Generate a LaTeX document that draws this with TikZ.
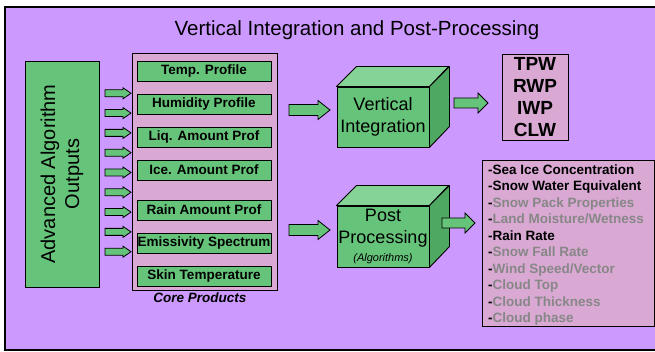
\documentclass[tikz,border=0pt]{standalone}
\usepackage{fontspec}
\setmainfont{Liberation Sans}
\definecolor{bgpurple}{HTML}{CC99FF}
\definecolor{pinkfill}{HTML}{D9A9D3}
\definecolor{gfront}{HTML}{66C47A}
\definecolor{gtop}{HTML}{85D397}
\definecolor{gside}{HTML}{4FA862}
\definecolor{graytext}{HTML}{878787}
\newcommand{\barrow}[6]{%
  \filldraw[arrowshape] (#1,#2-#4) -- (#1+#3-#6,#2-#4) -- (#1+#3-#6,#2-#5) -- (#1+#3,#2) -- (#1+#3-#6,#2+#5) -- (#1+#3-#6,#2+#4) -- (#1,#2+#4) -- cycle;}
\begin{document}
\begin{tikzpicture}[x=1pt,y=-1pt,
  arrowshape/.style={fill=gfront,draw=black,line width=0.8pt,line join=miter},
  greenbox/.style={draw=black,fill=gfront,line width=0.9pt,inner sep=0pt},
  itembox/.style={greenbox,minimum width=134pt,minimum height=20pt,font=\bfseries\fontsize{13.5}{16}\selectfont},
  pinkbox/.style={draw=black,fill=pinkfill,line width=0.9pt,inner sep=0pt},
  cubetop/.style={fill=gtop,draw=black,line width=0.9pt,line join=round},
  cubeside/.style={fill=gside,draw=black,line width=0.9pt,line join=round}]
\useasboundingbox (0,0) rectangle (655,352);
\fill[white] (0,0) rectangle (655,352);
\filldraw[fill=bgpurple,draw=black,line width=1.5pt] (5,7) rectangle (664,350);
\node[font=\fontsize{20.5}{24}\selectfont] (title) at (357,30) {Vertical Integration and Post-Processing};
% left box
\node[greenbox,rotate=90,minimum width=226pt,minimum height=74pt,align=center,font=\fontsize{20}{24}\selectfont] (aao) at (62,174) {Advanced Algorithm\\Outputs};
% small arrows
\foreach \k in {0,...,8} {\barrow{105}{93.3+19.8*\k}{26}{3.5}{5.5}{8}}
% core products
\node[pinkbox,minimum width=145pt,minimum height=237pt] (core) at (204.5,171.5) {};
\node[itembox] (temp) at (204,71) {Temp. Profile};
\node[itembox] (hum) at (204,104) {Humidity Profile};
\node[itembox] (liq) at (204,137) {Liq. Amount Prof};
\node[itembox] (ice) at (204,170) {Ice. Amount Prof};
\node[itembox] (rain) at (204,210) {Rain Amount Prof};
\node[itembox] (emis) at (204,243) {Emissivity Spectrum};
\node[itembox] (skin) at (204,276) {Skin Temperature};
\node[font=\bfseries\itshape\fontsize{13.5}{16}\selectfont] (corelbl) at (200,298) {Core Products};
% vertical integration cube
\node[greenbox,minimum width=92pt,minimum height=60pt,align=center,font=\fontsize{18}{22}\selectfont] (vi) at (383,117) {Vertical\\Integration};
\filldraw[cubetop] (vi.north west) -- ++(20,-20) -- ++(92,0) -- (vi.north east) -- cycle;
\filldraw[cubeside] (vi.north east) -- ++(20,-20) -- ++(0,60) -- (vi.south east) -- cycle;
% post processing cube
\node[greenbox,minimum width=92pt,minimum height=61pt,align=center,font=\fontsize{18}{22}\selectfont] (pp) at (383,236.5) {Post\\Processing\\[-4pt]{\itshape\fontsize{11}{13}\selectfont (Algorithms)}};
\filldraw[cubetop] (pp.north west) -- ++(20,-20) -- ++(92,0) -- (pp.north east) -- cycle;
\filldraw[cubeside] (pp.north east) -- ++(20,-20) -- ++(0,61) -- (pp.south east) -- cycle;
% big arrows
\barrow{289}{110}{41}{5.5}{9.5}{12}
\barrow{454}{103}{34}{5}{10}{10}
\barrow{289}{230}{41}{5.5}{9.5}{12}
\barrow{442}{223}{33}{5}{10}{10}
% TPW box
\node[pinkbox,minimum width=66pt,minimum height=86pt,align=center,font=\bfseries\fontsize{19}{22}\selectfont] (tpw) at (535,97) {\rule{0pt}{14pt}TPW\\RWP\\IWP\\CLW};
% list box
\node[pinkbox,anchor=north west,minimum width=172pt,minimum height=166pt] (list) at (482,160) {};
\node[anchor=north west,align=left,inner sep=0pt,font=\bfseries\fontsize{13.5}{16.5}\selectfont] (listtext) at (488,164.5) {%
-Sea Ice Concentration\\
-Snow Water Equivalent\\
-\textcolor{graytext}{Snow Pack Properties}\\
-\textcolor{graytext}{Land Moisture/Wetness}\\
-Rain Rate\\
-\textcolor{graytext}{Snow Fall Rate}\\
-\textcolor{graytext}{Wind Speed/Vector}\\
-\textcolor{graytext}{Cloud Top}\\
-\textcolor{graytext}{Cloud Thickness}\\
-\textcolor{graytext}{Cloud phase}};
\end{tikzpicture}
\end{document}
